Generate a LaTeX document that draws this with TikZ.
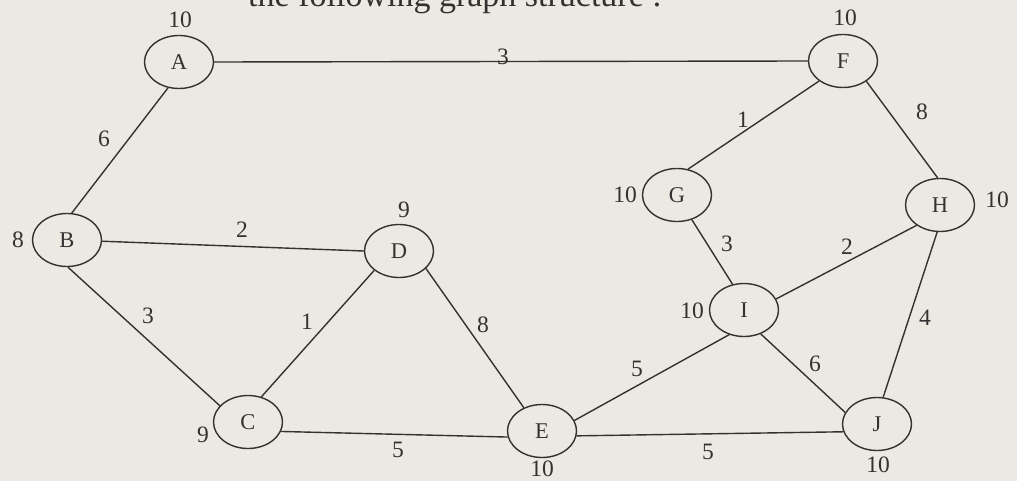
\documentclass[tikz,border=0pt]{standalone}
\usepackage{fontspec}
\setmainfont{Liberation Serif}
\usetikzlibrary{shapes.geometric}
\definecolor{paper}{RGB}{236,233,226}
\definecolor{ink}{RGB}{52,50,48}
\tikzset{
  vert/.style={ellipse,draw=ink,line width=1.4pt,minimum width=69pt,minimum height=53pt,inner sep=0pt,text=ink,font=\fontsize{22.5}{22.5}\selectfont},
  wt/.style={text=ink,inner sep=0pt,font=\fontsize{23.5}{23.5}\selectfont},
  edge/.style={draw=ink,line width=1.4pt}
}
\begin{document}
\begin{tikzpicture}[x=1pt,y=-1pt]
\useasboundingbox (0,0) rectangle (1017,481);
\fill[paper] (0,0) rectangle (1017,481);
\begin{scope}
\clip (0,0) rectangle (1017,481);
\node[text=ink,inner sep=0pt,anchor=base east,font=\fontsize{34}{34}\selectfont] (title) at (662,7) {the following graph structure :};
\end{scope}
% vertices
\node[vert] (A) at (179,62) {A};
\node[vert] (F) at (843,61) {F};
\node[vert] (B) at (67,240) {B};
\node[vert] (D) at (399,251) {D};
\node[vert] (G) at (677,195) {G};
\node[vert] (H) at (940,205) {H};
\node[vert] (I) at (744,310) {I};
\node[vert] (C) at (248,422) {C};
\node[vert] (E) at (542,431) {E};
\node[vert] (J) at (877,424) {J};
% edges
\draw[edge] (A.0) -- (F.180);
\draw[edge] (A.247) -- (B.80);
\draw[edge] (B.-2) -- (D.180);
\draw[edge] (B.272) -- (C.150);
\draw[edge] (C.62) -- (D.218);
\draw[edge] (C.344) -- (E.190);
\draw[edge] (D.327) -- (E.128);
\draw[edge] (E.18) -- (I.239);
\draw[edge] (E.352) -- (J.193);
\draw[edge] (F.220) -- (G.67);
\draw[edge] (F.319) -- (H.95);
\draw[edge] (G.301) -- (I.114);
\draw[edge] (I.19) -- (H.221);
\draw[edge] (I.305) -- (J.160);
\draw[edge] (H.264) -- (J.77);
% vertex values
\node[wt] (vA) at (180,20) {10};
\node[wt] (vF) at (845,18) {10};
\node[wt] (vB) at (18,240) {8};
\node[wt] (vD) at (404,210) {9};
\node[wt] (vG) at (625,195) {10};
\node[wt] (vH) at (997,200) {10};
\node[wt] (vI) at (692,311) {10};
\node[wt] (vC) at (203,435) {9};
\node[wt] (vE) at (542,469) {10};
\node[wt] (vJ) at (878,465) {10};
% edge weights
\node[wt] (wAF) at (503,57) {3};
\node[wt] (wAB) at (104,139) {6};
\node[wt] (wFG) at (743,120) {1};
\node[wt] (wFH) at (922,112) {8};
\node[wt] (wBD) at (242,230) {2};
\node[wt] (wGI) at (727,244) {3};
\node[wt] (wIH) at (847,247) {2};
\node[wt] (wHJ) at (925,318) {4};
\node[wt] (wBC) at (148,316) {3};
\node[wt] (wCD) at (307,322) {1};
\node[wt] (wDE) at (483,325) {8};
\node[wt] (wEI) at (637,369) {5};
\node[wt] (wIJ) at (815,364) {6};
\node[wt] (wCE) at (398,450) {5};
\node[wt] (wEJ) at (708,452) {5};
\end{tikzpicture}
\end{document}
